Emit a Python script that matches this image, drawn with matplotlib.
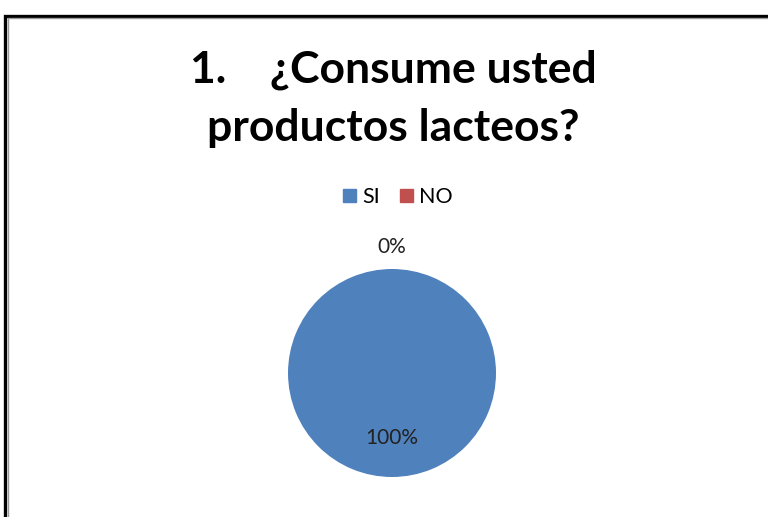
import numpy as np
import matplotlib
matplotlib.use('Agg')
import matplotlib.pyplot as plt
from matplotlib.patches import Rectangle

plt.rcParams['font.family'] = ['Lato', 'DejaVu Sans']

title_lines = ['1.    ¿Consume usted', 'productos lacteos?']
categories = ['SI', 'NO']
values = [100, 0]
colors = ['#4F81BD', '#C0504D']

W, H = 768, 517
fig = plt.figure(figsize=(W / 100, H / 100), dpi=100)
fig.patch.set_facecolor('white')

# frame around the chart (runs off the right and bottom edges)
fig.add_artist(Rectangle((5 / W, -0.1), 1.2, 1 - 14 / H + 0.1 - 1.5 / H, transform=fig.transFigure,
                         fill=False, edgecolor='black', linewidth=2.4))
fig.add_artist(Rectangle((8 / W, -0.1), 1.2, 1 - 17 / H + 0.1 - 1.5 / H, transform=fig.transFigure,
                         fill=False, edgecolor='#9a9a9a', linewidth=1.0))

fig.text(393 / W, 1 - 70 / H, title_lines[0], ha='center', va='center', fontsize=32, fontweight='bold')
fig.text(393 / W, 1 - 128 / H, title_lines[1], ha='center', va='center', fontsize=32, fontweight='bold')

cx, cy, r = 392, 373, 104
ax = fig.add_axes([(cx - r) / W, (H - cy - r) / H, 2 * r / W, 2 * r / H])
wedges, _ = ax.pie(values, colors=colors, startangle=90, counterclock=True,
                   wedgeprops=dict(linewidth=0))
ax.set_xlim(-1, 1); ax.set_ylim(-1, 1)
ax.set_aspect('equal')
ax.axis('off')

total = sum(values)
for w, v in zip(wedges, values):
    ang = np.deg2rad((w.theta1 + w.theta2) / 2)
    d = 0.625 if v > 0 else 1.21
    if v == 0:
        ang = np.deg2rad(w.theta1)
    ax.text(d * np.cos(ang), d * np.sin(ang), f'{v / total * 100:.0f}%',
            ha='center', va='center', fontsize=15, color='#222222', clip_on=False)

handles = [Rectangle((0, 0), 1, 1, color=c) for c in colors]
fig.legend(handles, categories, loc='center', bbox_to_anchor=(398 / W, 1 - 197 / H), ncol=2,
           frameon=False, fontsize=15.5, handlelength=0.6, handleheight=0.6,
           handletextpad=0.3, columnspacing=0.9)

fig.savefig('out.png', dpi=100, facecolor='white')
